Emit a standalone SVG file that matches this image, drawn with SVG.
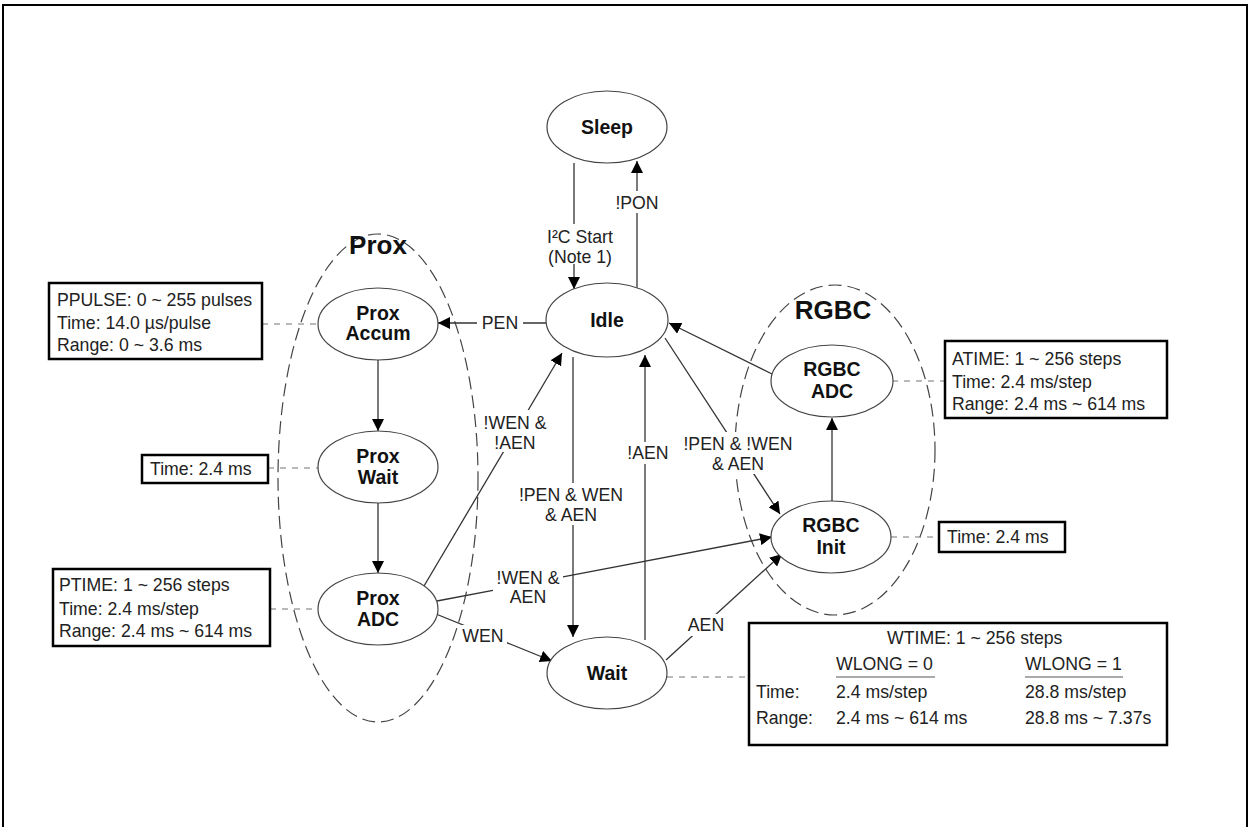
<svg xmlns="http://www.w3.org/2000/svg" width="1250" height="827" viewBox="0 0 1250 827">
<defs>
<marker id="arr" viewBox="0 0 12 12" refX="12" refY="6" markerWidth="12" markerHeight="12" markerUnits="userSpaceOnUse" orient="auto">
<path d="M0,0 L12,6 L0,12 Z" fill="#000"/>
</marker>
<style>
.frame{fill:none;stroke:#000;stroke-width:2}
.node{fill:#fff;stroke:#444;stroke-width:1.2}
.group{fill:none;stroke:#444;stroke-width:1.2;stroke-dasharray:13 6}
.nl{font-family:"Liberation Sans",Arial,sans-serif;font-weight:bold;font-size:19.5px;fill:#111;text-anchor:middle}
.gl{font-family:"Liberation Sans",Arial,sans-serif;font-weight:bold;font-size:26px;fill:#111;text-anchor:middle}
.edge{fill:none;stroke:#333;stroke-width:1.3}
.arrow{marker-end:url(#arr)}
.dash{fill:none;stroke:#777;stroke-width:1.2;stroke-dasharray:6 6}
.lbl{font-family:"Liberation Sans",Arial,sans-serif;font-size:17.7px;fill:#222;text-anchor:middle}
.bg{fill:#fff}
.box{fill:#fff;stroke:#000;stroke-width:2.5}
.bt{font-family:"Liberation Sans",Arial,sans-serif;font-size:17.7px;fill:#222}
.ul{stroke:#aaa;stroke-width:2}
</style>
</defs>
<rect width="1250" height="827" fill="#fff"/>
<path class="frame" d="M3,827 L3,5 L1247,5 L1247,827"/>

<g id="group-prox">
<ellipse class="group" cx="378" cy="478" rx="100" ry="244"/>
<text class="gl" x="378" y="254">Prox</text>
</g>
<g id="group-rgbc">
<ellipse class="group" cx="835" cy="450" rx="100" ry="165"/>
<text class="gl" x="833" y="319">RGBC</text>
</g>

<g id="connectors">
<path class="edge arrow" d="M574,163 L574,289"/>
<path class="edge arrow" d="M637,288 L637,161"/>
<path class="edge arrow" d="M547,323 L438,323"/>
<path class="edge arrow" d="M378,360 L378,431"/>
<path class="edge arrow" d="M378,503 L378,573"/>
<path class="edge arrow" d="M424,586 L562,353"/>
<path class="edge arrow" d="M573,357 L573,637"/>
<path class="edge arrow" d="M645,640 L645,355"/>
<path class="edge arrow" d="M665,338 L780,514"/>
<path class="edge arrow" d="M772,374 L669,323"/>
<path class="edge arrow" d="M832,501 L832,418"/>
<path class="edge arrow" d="M437,601 L772,537"/>
<path class="edge arrow" d="M436,614 L552,661"/>
<path class="edge arrow" d="M666,660 L782,554"/>
<path class="dash" d="M262,324 L318,324"/>
<path class="dash" d="M268,468 L318,468"/>
<path class="dash" d="M270,609 L318,609"/>
<path class="dash" d="M892,381 L945,381"/>
<path class="dash" d="M891,537 L939,537"/>
<path class="dash" d="M667,677 L749,677"/>
<g id="edge-labels">
<rect class="bg" x="545" y="224" width="72" height="40"/>
<text class="lbl" x="580" y="243">I²C Start</text>
<text class="lbl" x="580" y="263">(Note 1)</text>
<rect class="bg" x="613" y="191" width="48" height="22"/>
<text class="lbl" x="637" y="209">!PON</text>
<rect class="bg" x="477" y="312" width="46" height="22"/>
<text class="lbl" x="500" y="329">PEN</text>
<rect class="bg" x="481" y="410" width="68" height="42"/>
<text class="lbl" x="515" y="429">!WEN &amp;</text>
<text class="lbl" x="515" y="449">!AEN</text>
<rect class="bg" x="514" y="483" width="114" height="42"/>
<text class="lbl" x="571" y="501">!PEN &amp; WEN</text>
<text class="lbl" x="571" y="521">&amp; AEN</text>
<rect class="bg" x="625" y="442" width="46" height="22"/>
<text class="lbl" x="648" y="459">!AEN</text>
<rect class="bg" x="680" y="432" width="116" height="42"/>
<text class="lbl" x="738" y="450">!PEN &amp; !WEN</text>
<text class="lbl" x="738" y="470">&amp; AEN</text>
<rect class="bg" x="493" y="567" width="70" height="40"/>
<text class="lbl" x="528" y="584">!WEN &amp;</text>
<text class="lbl" x="528" y="603">AEN</text>
<rect class="bg" x="459" y="625" width="48" height="22"/>
<text class="lbl" x="483" y="642">WEN</text>
<rect class="bg" x="683" y="614" width="46" height="22"/>
<text class="lbl" x="706" y="631">AEN</text>
</g>
</g>

<g id="node-sleep">
<ellipse class="node" cx="607" cy="127" rx="60" ry="36"/>
<text class="nl" x="607" y="134">Sleep</text>
</g>
<g id="node-idle">
<ellipse class="node" cx="607" cy="320" rx="61" ry="37"/>
<text class="nl" x="607" y="327">Idle</text>
</g>
<g id="node-prox-accum">
<ellipse class="node" cx="378" cy="324" rx="60" ry="36"/>
<text class="nl" x="378" y="320">Prox</text>
<text class="nl" x="378" y="340">Accum</text>
</g>
<g id="node-prox-wait">
<ellipse class="node" cx="378" cy="467" rx="60" ry="36"/>
<text class="nl" x="378" y="463">Prox</text>
<text class="nl" x="378" y="484">Wait</text>
</g>
<g id="node-prox-adc">
<ellipse class="node" cx="378" cy="609" rx="60" ry="36"/>
<text class="nl" x="378" y="605">Prox</text>
<text class="nl" x="378" y="626">ADC</text>
</g>
<g id="node-wait">
<ellipse class="node" cx="607" cy="673" rx="60" ry="36"/>
<text class="nl" x="607" y="680">Wait</text>
</g>
<g id="node-rgbc-adc">
<ellipse class="node" cx="832" cy="381" rx="61" ry="36"/>
<text class="nl" x="832" y="376">RGBC</text>
<text class="nl" x="832" y="398">ADC</text>
</g>
<g id="node-rgbc-init">
<ellipse class="node" cx="831" cy="537" rx="60" ry="36"/>
<text class="nl" x="831" y="532">RGBC</text>
<text class="nl" x="831" y="554">Init</text>
</g>

<g id="box-ppulse">
<rect class="box" x="49" y="283" width="213" height="76"/>
<text class="bt" x="57" y="306">PPULSE: 0 ~ 255 pulses</text>
<text class="bt" x="57" y="329">Time: 14.0 µs/pulse</text>
<text class="bt" x="57" y="351">Range: 0 ~ 3.6 ms</text>
</g>
<g id="box-proxwait">
<rect class="box" x="142" y="455" width="126" height="28"/>
<text class="bt" x="150" y="475">Time: 2.4 ms</text>
</g>
<g id="box-ptime">
<rect class="box" x="53" y="569" width="217" height="77"/>
<text class="bt" x="59" y="591">PTIME: 1 ~ 256 steps</text>
<text class="bt" x="59" y="615">Time: 2.4 ms/step</text>
<text class="bt" x="59" y="637">Range: 2.4 ms ~ 614 ms</text>
</g>
<g id="box-atime">
<rect class="box" x="945" y="341" width="222" height="77"/>
<text class="bt" x="952" y="365">ATIME: 1 ~ 256 steps</text>
<text class="bt" x="952" y="388">Time: 2.4 ms/step</text>
<text class="bt" x="952" y="410">Range: 2.4 ms ~ 614 ms</text>
</g>
<g id="box-rgbcinit">
<rect class="box" x="939" y="522" width="126" height="30"/>
<text class="bt" x="947" y="543">Time: 2.4 ms</text>
</g>
<g id="box-wtime">
<rect class="box" x="749" y="623" width="418" height="122"/>
<text class="bt" x="887" y="644">WTIME: 1 ~ 256 steps</text>
<text class="bt" x="836" y="670">WLONG = 0</text>
<line class="ul" x1="836" y1="677" x2="935" y2="677"/>
<text class="bt" x="1025" y="670">WLONG = 1</text>
<line class="ul" x1="1025" y1="677" x2="1123" y2="677"/>
<text class="bt" x="756" y="698">Time:</text>
<text class="bt" x="836" y="698">2.4 ms/step</text>
<text class="bt" x="1025" y="698">28.8 ms/step</text>
<text class="bt" x="756" y="724">Range:</text>
<text class="bt" x="836" y="724">2.4 ms ~ 614 ms</text>
<text class="bt" x="1025" y="724">28.8 ms ~ 7.37s</text>
</g>
</svg>
